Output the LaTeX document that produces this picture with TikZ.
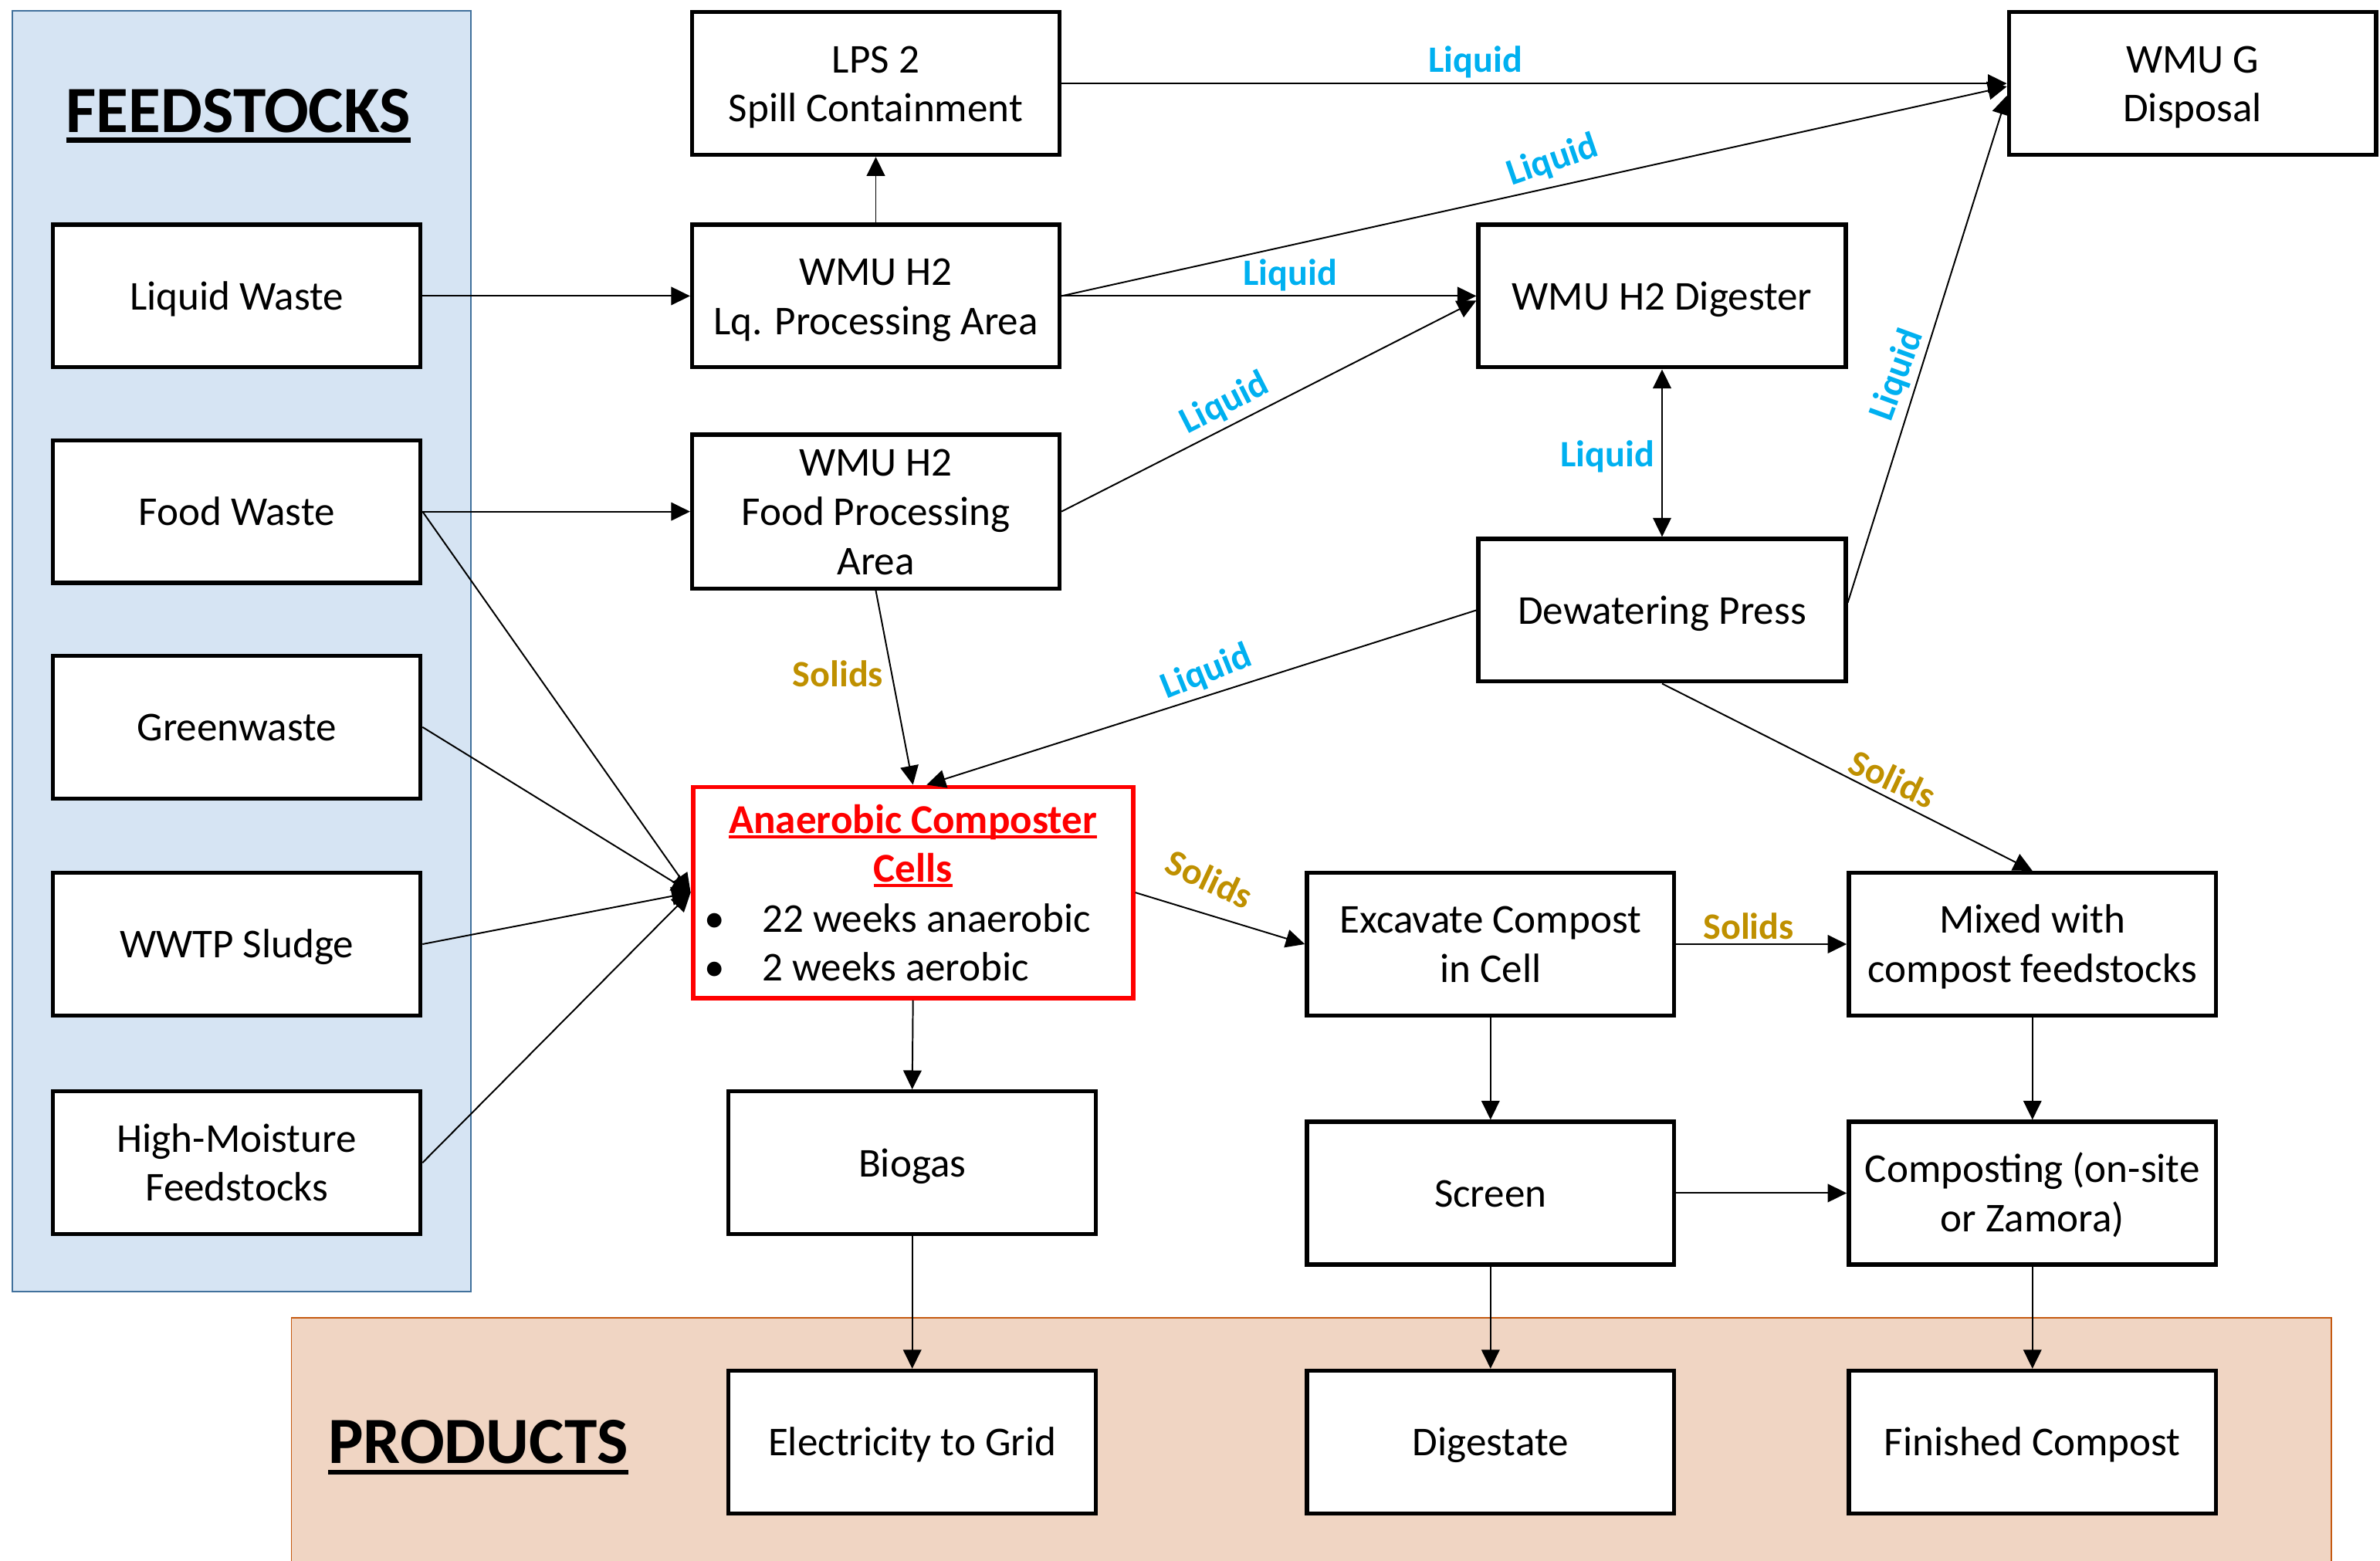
\documentclass[tikz,border=0pt]{standalone}
\usepackage{fontspec}
\setmainfont{Carlito}
\usetikzlibrary{arrows.meta,calc}
\definecolor{liq}{HTML}{00B0F0}
\definecolor{sol}{HTML}{BF9000}
\definecolor{fsfill}{HTML}{D6E4F3}
\definecolor{fsline}{HTML}{41719C}
\definecolor{prfill}{HTML}{F0D5C3}
\definecolor{prline}{HTML}{C55A11}
\newcommand\myul[3]{\leavevmode\setbox0\hbox{#3}\rlap{\rule[-#1]{\wd0}{#2}}\box0}
\newcommand\bs{\rule[-7.1pt]{0pt}{32.4pt}}
\newcommand\bodyfont{\fontsize{27}{32.5}\selectfont}
\begin{document}
\begin{tikzpicture}[x=1pt,y=-1pt,
  box/.style={draw=black, line width=2.7pt, fill=white, minimum width=242pt,
    minimum height=94pt, inner sep=2pt, align=center, font=\bodyfont},
  arr/.style={-{Triangle[length=12.5pt,width=12pt]}, line width=1pt},
  dblarr/.style={{Triangle[length=12.5pt,width=12pt]}-{Triangle[length=12.5pt,width=12pt]}, line width=1pt},
  lab/.style={font=\bfseries\fontsize{24.5}{28}\selectfont, inner sep=0pt},
  title/.style={anchor=base, inner sep=0pt, font=\bfseries\fontsize{43.5}{50}\selectfont}]
\useasboundingbox (0,0) rectangle (1568,1028);
% panels
\fill[fsfill] (8,7) rectangle (310,851);
\draw[fsline, line width=1pt] (8,7) rectangle (310,851);
\fill[prfill] (192,868) rectangle (1536,1032);
\draw[prline, line width=1pt] (192,1032) -- (192,868) -- (1536,868) -- (1536,1032);
\node[title] (fst) at (157,87) {\myul{7pt}{3.5pt}{FEEDSTOCKS}};
\node[title] (prt) at (315,964) {\myul{7.5pt}{3pt}{PRODUCTS}};
% feedstock boxes
\node[box] (lw) at (156,195) {\bs Liquid Waste\bs};
\node[box] (fw) at (156,337) {\bs Food Waste\bs};
\node[box] (gw) at (156,479) {\bs Greenwaste\bs};
\node[box] (ww) at (156,622) {\bs WWTP Sludge\bs};
\node[box] (hm) at (156,766) {\bs High-Moisture\\\bs Feedstocks\bs};
% middle column
\node[box] (lps) at (577,55) {\bs LPS 2\\\bs Spill Containment\bs};
\node[box] (lqp) at (577,195) {\bs WMU H2\\\bs Lq. Processing Area\bs};
\node[box] (fpa) at (577,337) {\bs WMU H2\\\bs Food Processing\\\bs Area\bs};
\node[box, draw=red, line width=3pt, minimum width=290pt, minimum height=139pt] (acc) at (601.5,588) {};
\node[anchor=base, inner sep=0pt, font=\bfseries\bodyfont, text=red] (acct) at (601.5,549) {\myul{3.5pt}{2pt}{Anaerobic Composter}};
\node[anchor=base, inner sep=0pt, font=\bfseries\bodyfont, text=red] (accc) at (601.5,581) {\myul{3.5pt}{2pt}{Cells}};
\node[anchor=base west, inner sep=0pt, font=\bodyfont] (accb1) at (464,614) {\makebox[38pt][l]{•}22 weeks anaerobic};
\node[anchor=base west, inner sep=0pt, font=\bodyfont] (accb2) at (464,646) {\makebox[38pt][l]{•}2 weeks aerobic};
\node[box] (bio) at (601,766) {\bs Biogas\bs};
\node[box] (elec) at (601,950) {\bs Electricity to Grid\bs};
% right part
\node[box] (wmug) at (1444.5,55) {\bs WMU G\\\bs Disposal\bs};
\node[box] (dig) at (1095,195) {\bs WMU H2 Digester\bs};
\node[box] (dwp) at (1095,402) {\bs Dewatering Press\bs};
\node[box] (exc) at (982,622) {\bs Excavate Compost\\\bs in Cell\bs};
\node[box] (mix) at (1339,622) {\bs Mixed with\\\bs compost feedstocks\bs};
\node[box] (scr) at (982,786) {\bs Screen\bs};
\node[box] (cmp) at (1339,786) {\bs Composting (on-site\\\bs or Zamora)\bs};
\node[box] (dgs) at (982,950) {\bs Digestate\bs};
\node[box] (fc) at (1339,950) {\bs Finished Compost\bs};
% connectors
\draw[arr] (lw.east) -- (lqp.west);
\draw[arr] (fw.east) -- (fpa.west);
\draw[arr] (lqp.north) -- (lps.south);
\draw[arr] (lps.east) -- (wmug.west);
\draw[arr] (lqp.east) -- ($(wmug.west)+(0,2)$);
\draw[arr] (lqp.east) -- (dig.west);
\draw[arr] (fpa.east) -- ($(dig.west)+(0,3)$);
\draw[dblarr] (dig.south) -- (dwp.north);
\draw[arr] ($(dwp.east)+(0,-5)$) -- ($(wmug.west)+(0,8)$);
\draw[arr] (dwp.west) -- ($(acc.north)+(9,0)$);
\draw[arr] (fpa.south) -- (acc.north);
\draw[arr] (fw.east) -- (acc.west);
\draw[arr] (gw.east) -- (acc.west);
\draw[arr] (ww.east) -- (acc.west);
\draw[arr] (hm.east) -- (acc.west);
\draw[arr] (acc.east) -- (exc.west);
\draw[arr] (acc.south) -- (bio.north);
\draw[arr] (bio.south) -- (elec.north);
\draw[arr] (dwp.south) -- (mix.north);
\draw[arr] (exc.east) -- (mix.west);
\draw[arr] (exc.south) -- (scr.north);
\draw[arr] (mix.south) -- (cmp.north);
\draw[arr] (scr.east) -- (cmp.west);
\draw[arr] (scr.south) -- (dgs.north);
\draw[arr] (cmp.south) -- (fc.north);
% labels
\node[lab, text=liq] (l1) at (972,41) {Liquid};
\node[lab, text=liq, rotate=19] (l2) at (1023,106) {Liquid};
\node[lab, text=liq] (l3) at (850,181) {Liquid};
\node[lab, text=liq, rotate=27] (l4) at (807,266) {Liquid};
\node[lab, text=liq] (l5) at (1059,301) {Liquid};
\node[lab, text=liq, rotate=70] (l6) at (1250,247) {Liquid};
\node[lab, text=liq, rotate=22] (l7) at (795,443) {Liquid};
\node[lab, text=sol] (s1) at (552,444) {Solids};
\node[lab, text=sol, rotate=-25] (s2) at (797,579) {Solids};
\node[lab, text=sol, rotate=-25] (s3) at (1247,513) {Solids};
\node[lab, text=sol] (s4) at (1152,610) {Solids};
\end{tikzpicture}
\end{document}
